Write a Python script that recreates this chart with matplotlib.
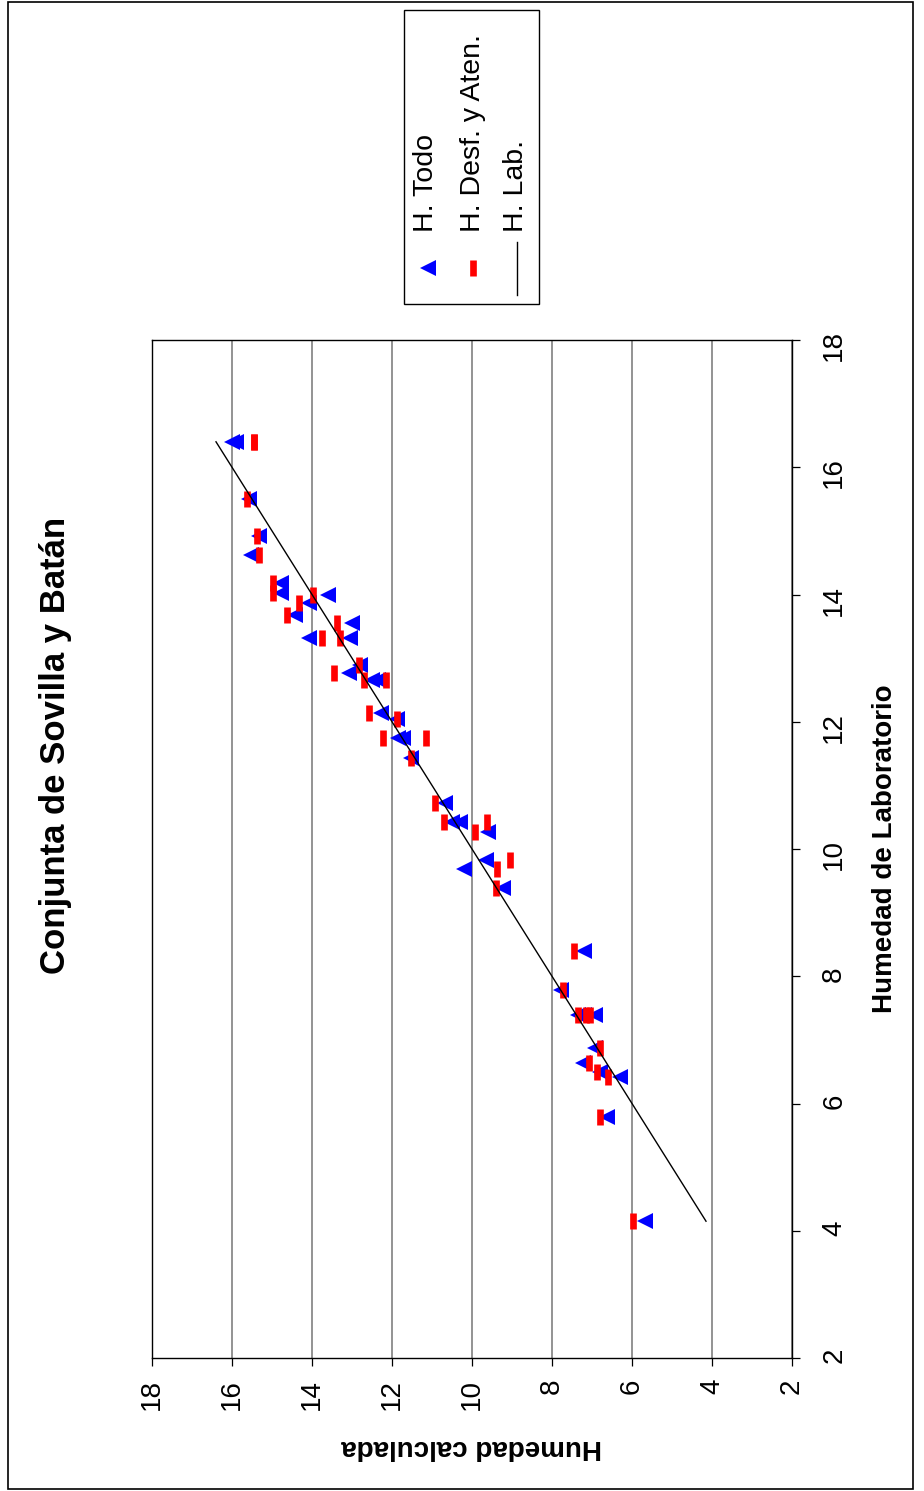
import matplotlib
matplotlib.use("Agg")
import matplotlib.pyplot as plt
from matplotlib.patches import Rectangle

plt.rcParams['font.family'] = ['Liberation Sans', 'DejaVu Sans']

# Humedad de laboratorio (eje vertical) y humedades calculadas (eje horizontal)
lab = [16.40, 16.40, 15.50, 14.92, 14.62, 14.18, 14.02, 13.99, 13.87, 13.68,
       13.55, 13.32, 13.32, 12.89, 12.77, 12.66, 12.66, 12.14, 12.04, 11.74,
       11.74, 11.43, 10.73, 10.43, 10.43, 10.27, 9.83, 9.68, 9.38, 8.40,
       7.79, 7.39, 7.39, 7.39, 6.87, 6.63, 6.50, 6.41, 5.79, 4.15]
h_todo = [16.00, 15.90, 15.58, 15.33, 15.52, 14.78, 14.78, 13.61, 14.08, 14.43,
          12.99, 14.08, 13.05, 12.80, 13.08, 12.50, 12.35, 12.27, 11.88, 11.85,
          11.72, 11.53, 10.68, 10.51, 10.30, 9.59, 9.66, 10.21, 9.22, 7.21,
          7.77, 7.34, 7.20, 6.93, 6.93, 7.23, 6.80, 6.29, 6.63, 5.67]
h_desf = [15.45, 15.45, 15.62, 15.38, 15.32, 14.98, 14.98, 13.97, 14.33, 14.63,
          13.38, 13.76, 13.30, 12.83, 13.44, 12.69, 12.16, 12.57, 11.88, 12.22,
          11.15, 11.53, 10.93, 10.69, 9.62, 9.93, 9.05, 9.37, 9.40, 7.45,
          7.72, 7.36, 7.16, 7.04, 6.80, 7.07, 6.88, 6.59, 6.80, 5.97]
ticks = [2, 4, 6, 8, 10, 12, 14, 16, 18]

title = "Conjunta de Sovilla y Batán"
xlabel = "Humedad de Laboratorio"
ylabel = "Humedad calculada"
series_names = ["H. Todo", "H. Desf. y Aten.", "H. Lab."]

W, H = 924, 1491
fig = plt.figure(figsize=(W / 100, H / 100), dpi=100)
fig.patch.set_facecolor('white')

# Gráfico girado: la humedad de laboratorio crece hacia arriba,
# la calculada crece hacia la izquierda.
ax = fig.add_axes([152 / W, 1 - 1358 / H, 640 / W, 1018 / H])
ax.set_xlim(18, 2)
ax.set_ylim(2, 18)
ax.set_xticks(ticks)
ax.set_yticks(ticks)
ax.yaxis.tick_right()
ax.tick_params(axis='both', direction='out', length=6, width=0.9,
               labelsize=20, labelrotation=90, colors='black')
ax.tick_params(axis='x', pad=9)
ax.tick_params(axis='y', pad=15)
ax.grid(axis='x', color='#808080', linewidth=1.2)
ax.set_axisbelow(True)
for s in ax.spines.values():
    s.set_color('black')
    s.set_linewidth(1.0)

ax.plot(h_todo, lab, linestyle='none', marker='<', markersize=11.5,
        color='#0000FF', markeredgewidth=0, zorder=3)
ax.plot(h_desf, lab, linestyle='none', marker='|', markersize=11.3,
        markeredgewidth=4.8, color='#FF0000', zorder=4)
lo, hi = min(lab), max(lab)
ax.plot([lo, hi], [lo, hi], color='black', linewidth=1.0, zorder=5)

# Capa superior en píxeles para títulos, leyenda y marco
ov = fig.add_axes([0, 0, 1, 1])
ov.set_xlim(0, W)
ov.set_ylim(H, 0)
ov.axis('off')

ov.text(56, 745, title, rotation=90, ha='center', va='center',
        fontsize=25, fontweight='bold')
ov.text(885, 849, xlabel, rotation=90, ha='center', va='center',
        fontsize=20, fontweight='bold')
ov.text(472, 1447, ylabel, rotation=180, ha='center', va='center',
        fontsize=20, fontweight='bold')

# Leyenda
ov.add_patch(Rectangle((404, 10), 135, 294, facecolor='white',
                       edgecolor='black', linewidth=1.0))
ov.plot([428], [268], linestyle='none', marker='<', markersize=11.5,
        color='#0000FF', markeredgewidth=0)
ov.plot([473], [268], linestyle='none', marker='|', markersize=11.3,
        markeredgewidth=4.8, color='#FF0000')
ov.plot([517, 517], [242, 295], color='black', linewidth=1.0)
for xb, name in zip([433, 480, 523], series_names):
    ov.text(xb, 232, name, rotation=90, rotation_mode='anchor',
            ha='left', va='baseline', fontsize=20.5)

# Marco exterior
ov.add_patch(Rectangle((8, 2), 905, 1487, fill=False, edgecolor='black',
                       linewidth=1.2))

fig.savefig('out.png', dpi=100)
